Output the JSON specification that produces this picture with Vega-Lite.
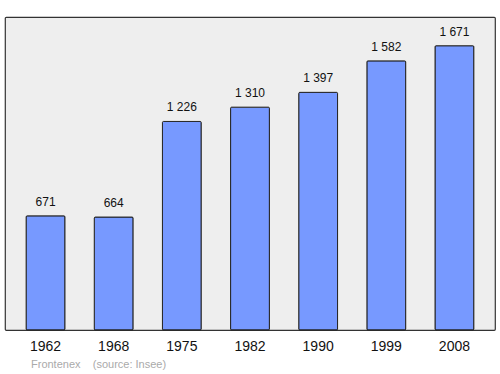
{
  "$schema": "https://vega.github.io/schema/vega-lite/v6.json",
  "width": 490,
  "height": 313,
  "autosize": {"type": "none"},
  "padding": {"left": 5, "top": 17, "right": 5, "bottom": 44},
  "background": "#ffffff",
  "config": {
    "font": "Liberation Sans",
    "view": {"fill": "#eeeeee", "stroke": "#333333", "strokeWidth": 1.2, "cornerRadius": 1},
    "locale": {"number": {"decimal": ",", "thousands": " ", "grouping": [3], "currency": ["", " €"]}}
  },
  "title": {
    "text": "Frontenex\u00a0\u00a0\u00a0 (source: Insee)",
    "orient": "bottom",
    "anchor": "start",
    "dx": 26,
    "offset": 6,
    "fontSize": 11,
    "fontWeight": "normal",
    "color": "#aaaaaa",
    "font": "Liberation Sans"
  },
  "data": {
    "values": [
      {"year": "1962", "pop": 671},
      {"year": "1968", "pop": 664},
      {"year": "1975", "pop": 1226},
      {"year": "1982", "pop": 1310},
      {"year": "1990", "pop": 1397},
      {"year": "1999", "pop": 1582},
      {"year": "2008", "pop": 1671}
    ]
  },
  "encoding": {
    "x": {
      "field": "year",
      "type": "nominal",
      "sort": null,
      "scale": {"paddingInner": 0.43, "paddingOuter": 0.31},
      "axis": {
        "title": null,
        "labelAngle": 0,
        "ticks": false,
        "domain": false,
        "labelPadding": 9,
        "labelFontSize": 14,
        "labelColor": "#111111",
        "labelFont": "Liberation Sans"
      }
    },
    "y": {
      "field": "pop",
      "type": "quantitative",
      "scale": {"domain": [0, 1840], "nice": false, "zero": true},
      "axis": null
    }
  },
  "layer": [
    {
      "mark": {"type": "bar", "fill": "#7799ff", "stroke": "#222222", "strokeWidth": 1, "cornerRadius": 1}
    },
    {
      "mark": {"type": "text", "baseline": "alphabetic", "dy": -10, "fontSize": 12, "color": "#111111", "font": "Liberation Sans"},
      "encoding": {
        "text": {"field": "pop", "type": "quantitative", "format": ",d"}
      }
    }
  ]
}
